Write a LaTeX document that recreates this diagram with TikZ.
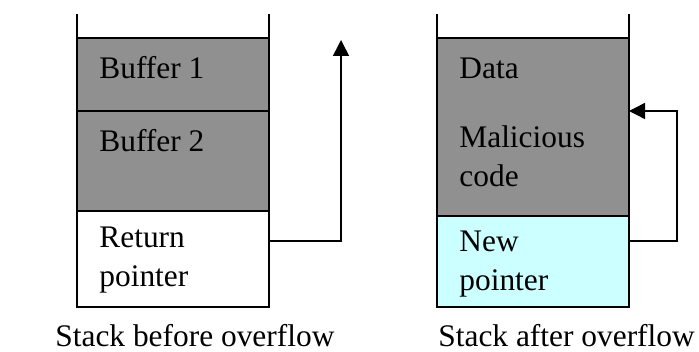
\documentclass[tikz,border=0pt]{standalone}
\usepackage{fontspec}
\setmainfont{Liberation Serif}
\usepackage{tikz}
\usetikzlibrary{arrows.meta,positioning}
\definecolor{bufgray}{HTML}{909090}
\definecolor{newcyan}{HTML}{CCFFFF}
\tikzset{
stackbox/.style = {draw, line width=1pt, rectangle, minimum width=96pt, inner sep=0pt, outer sep=0pt},
bufbox/.style = {stackbox, fill=bufgray},
lbl/.style = {anchor=base west, inner sep=0pt, align=left, font=\fontsize{15.7}{19.5}\selectfont},
ptr/.style = {line width=0.75pt, ->}
}

\begin{document}
\begin{tikzpicture}[>={Triangle[length=8pt,width=8pt]}]
    \useasboundingbox (0,0) rectangle (349.5pt,176pt);
    % stack before overflow
    \node [bufbox, minimum height=36.5pt, anchor=north west] (buf1) at (38.5pt,157pt) {};
    \node [bufbox, minimum height=50pt, below=0pt of buf1] (buf2) {};
    \node [stackbox, fill=white, minimum height=48pt, below=0pt of buf2] (ret) {};
    \draw [line width=1pt] (buf1.north west) -- ++(0,12pt) (buf1.north east) -- ++(0,12pt);
    \node [lbl] (buf1txt) at ([shift={(11pt,-20.5pt)}]buf1.north west) {Buffer 1};
    \node [lbl] (buf2txt) at ([shift={(11pt,-20.5pt)}]buf2.north west) {Buffer 2};
    \node [lbl] (rettxt) at ([shift={(11pt,-38pt)}]ret.north west) {Return\\pointer};
    \coordinate (retout) at ([yshift=9pt]ret.east);
    \coordinate (jump) at (170.5pt,156pt);
    \draw [ptr] (retout) -| (jump);
    \node [lbl] (capbefore) at (27.5pt,2.5pt) {Stack before overflow};
    % stack after overflow
    \node [bufbox, minimum height=89pt, anchor=north west] (data) at (218.5pt,157pt) {};
    \node [stackbox, fill=newcyan, minimum height=45.5pt, below=0pt of data] (newp) {};
    \draw [line width=1pt] (data.north west) -- ++(0,12pt) (data.north east) -- ++(0,12pt);
    \node [lbl] (datatxt) at ([shift={(11pt,-20.5pt)}]data.north west) {Data};
    \node [lbl] (maltxt) at ([shift={(11pt,-74.5pt)}]data.north west) {Malicious\\code};
    \node [lbl] (newtxt) at ([shift={(11pt,-37.5pt)}]newp.north west) {New\\pointer};
    \coordinate (newout) at ([yshift=10.25pt]newp.east);
    \coordinate (loop) at (338.5pt,120.5pt);
    \coordinate (malin) at (data.east |- loop);
    \draw [ptr] (newout) -| (loop) -- (malin);
    \node [lbl] (capafter) at (219pt,2.5pt) {Stack after overflow};
\end{tikzpicture}
\end{document}
